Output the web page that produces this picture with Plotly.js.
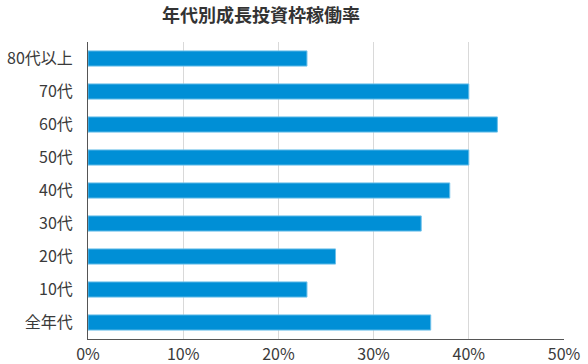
<!DOCTYPE html>
<html><head><meta charset="utf-8">
<script src="https://cdn.plot.ly/plotly-3.0.1.min.js"></script>
<style>body{margin:0;background:#fff}#chart{width:588px;height:364px}</style>
</head><body><div id="chart"></div>
<script>
const categories = ["全年代","10代","20代","30代","40代","50代","60代","70代","80代以上"];
const values = [36, 23, 26, 35, 38, 40, 43, 40, 23];
const tickVals = [0, 10, 20, 30, 40, 50];
const tickText = ["0%","10%","20%","30%","40%","50%"];
const titleText = "年代別成長投資枠稼働率";
const font = "Noto Sans CJK JP, Noto Sans, sans-serif";

Plotly.newPlot("chart", [{
  type: "bar", orientation: "h",
  x: values, y: categories,
  marker: {color: "#008fd6", line: {color: "#6cc0ea", width: 1}},
  width: 0.46,
  hoverinfo: "none"
}], {
  width: 588, height: 364,
  margin: {l: 88, r: 24, t: 42, b: 25},
  paper_bgcolor: "#fff", plot_bgcolor: "#fff",
  title: {text: "<b>" + titleText + "</b>", x: 261/588, xref: "container", xanchor: "center",
          y: 1 - 16/364, yref: "container", yanchor: "middle",
          font: {family: font, size: 18, color: "#333"}},
  xaxis: {range: [0, 50], tickvals: tickVals, ticktext: tickText,
          showgrid: true, gridcolor: "#d9d9d9", gridwidth: 1,
          showline: true, linecolor: "#555", linewidth: 1,
          zeroline: false, ticks: "", ticklabelstandoff: 1,
          tickfont: {family: font, size: 16, color: "#3a3a3a"}, fixedrange: true},
  yaxis: {type: "category", categoryorder: "array", categoryarray: categories,
          range: [-0.5, 8.5], showgrid: false,
          showline: true, linecolor: "#555", linewidth: 1,
          ticks: "", ticklabelstandoff: 11,
          tickfont: {family: font, size: 16, color: "#3a3a3a"}, fixedrange: true},
  showlegend: false
}, {displayModeBar: false, staticPlot: true});
</script></body></html>
